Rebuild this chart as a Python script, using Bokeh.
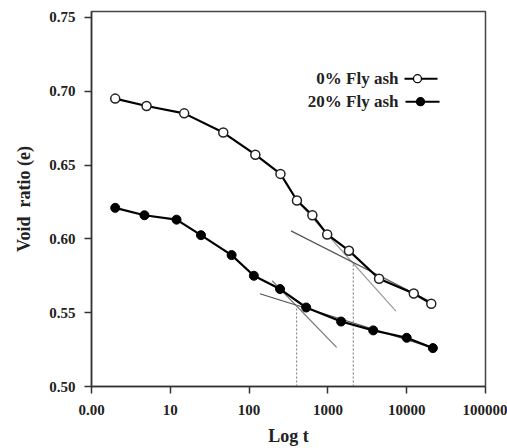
from bokeh.plotting import figure
from bokeh.models import Range1d, FixedTicker, PrintfTickFormatter, Label
from bokeh.embed import file_html
from bokeh.resources import INLINE

# ---- data ----
t_0 = [2, 5, 15, 47, 120, 250, 405, 635, 980, 1850, 4460, 12300, 20500]
e_0 = [0.695, 0.690, 0.685, 0.672, 0.657, 0.644, 0.626, 0.616, 0.603, 0.592, 0.573, 0.563, 0.556]

t_20 = [2, 4.7, 12, 24.5, 60, 115, 247, 530, 1470, 3760, 10000, 21500]
e_20 = [0.621, 0.616, 0.613, 0.6025, 0.589, 0.575, 0.566, 0.5535, 0.544, 0.538, 0.533, 0.526]

# tangent construction lines (end points)
tan0_steep_t = [405, 7300]
tan0_steep_e = [0.626, 0.551]
tan0_flat_t = [340, 22600]
tan0_flat_e = [0.6054, 0.556]
tan20_steep_t = [196, 1290]
tan20_steep_e = [0.5716, 0.5265]
tan20_flat_t = [137, 22000]
tan20_flat_e = [0.5628, 0.526]

# intersection verticals
t_c = [2100, 400]
e_c = [0.584, 0.555]

x_ticks = [1, 10, 100, 1000, 10000, 100000]
x_tick_labels = ["0.00", "10", "100", "1000", "10000", "100000"]
y_ticks = [0.50, 0.55, 0.60, 0.65, 0.70, 0.75]

series_labels = ["0% Fly ash", "20% Fly ash"]

# ---- layout constants (legend placement, in data space) ----
LEG_TEXT_X = 7870
LEG_Y = [0.7085, 0.6929]
LEG_LINE_X = [(9380, 24600), (9660, 26100)]
LEG_MARK_X = [13700, 14960]

FONT = "Liberation Serif"

p = figure(width=507, height=448, x_axis_type="log",
           x_range=Range1d(1, 100000), y_range=Range1d(0.50, 0.754),
           output_backend="svg", toolbar_location=None,
           min_border_left=91, min_border_right=22,
           min_border_top=11, min_border_bottom=61)

p.background_fill_color = "white"
p.border_fill_color = "white"
p.outline_line_color = "#444444"
p.outline_line_width = 1.5
p.xgrid.visible = False
p.ygrid.visible = False

# axes
p.xaxis.ticker = FixedTicker(ticks=x_ticks)
p.xaxis.major_label_overrides = {k: v for k, v in zip(x_ticks, x_tick_labels)}
p.yaxis.ticker = FixedTicker(ticks=y_ticks)
p.yaxis.formatter = PrintfTickFormatter(format="%.2f")

for ax in (p.xaxis[0], p.yaxis[0]):
    ax.axis_line_color = "#333333"
    ax.axis_line_width = 1.5
    ax.major_tick_line_color = "#333333"
    ax.major_tick_line_width = 1.5
    ax.major_tick_in = 0
    ax.major_tick_out = 7
    ax.minor_tick_line_color = None
    ax.major_label_text_font = FONT
    ax.major_label_text_font_style = "bold"
    ax.major_label_text_font_size = "15px"
    ax.major_label_text_color = "#222222"
    ax.axis_label_text_font = FONT
    ax.axis_label_text_font_style = "bold"
    ax.axis_label_text_font_size = "18px"
    ax.axis_label_text_color = "#222222"

p.xaxis.axis_label = "Log t"
p.xaxis.major_label_standoff = 11
p.xaxis.axis_label_standoff = 8
p.yaxis.axis_label = "Void\u00a0 ratio (e)"
p.yaxis.major_label_standoff = 9
p.yaxis.axis_label_standoff = 12

# construction lines
p.line(tan0_steep_t, tan0_steep_e, line_color="#9a9a9a", line_width=1.2)
p.line(tan0_flat_t, tan0_flat_e, line_color="#555555", line_width=1.2)
p.line(tan20_steep_t, tan20_steep_e, line_color="#777777", line_width=1.2)
p.line(tan20_flat_t, tan20_flat_e, line_color="#555555", line_width=1.2)
p.segment(x0=t_c, y0=[0.50] * len(t_c), x1=t_c, y1=e_c,
          line_color="#8a8a8a", line_width=1.2, line_dash="2 2")

# data
p.line(t_0, e_0, line_color="black", line_width=2.2)
p.line(t_20, e_20, line_color="black", line_width=2.2)
p.scatter(t_0, e_0, size=9, marker="circle", fill_color="white",
          line_color="#222222", line_width=1.5)
p.scatter(t_20, e_20, size=9, marker="circle", fill_color="black",
          line_color="black", line_width=1.0)

# custom legend (text left, glyph right)
fills = ["white", "black"]
for i, lab in enumerate(series_labels):
    p.add_layout(Label(x=LEG_TEXT_X, y=LEG_Y[i], text=lab, text_align="right",
                       text_baseline="middle", text_font=FONT,
                       text_font_style="bold", text_font_size="17px",
                       text_color="#222222"))
    x0, x1 = LEG_LINE_X[i]
    p.line([x0, x1], [LEG_Y[i], LEG_Y[i]], line_color="black", line_width=2)
    p.scatter([LEG_MARK_X[i]], [LEG_Y[i]], size=8, marker="circle",
              fill_color=fills[i], line_color="black", line_width=1.3)

open("out.html", "w").write(file_html(p, INLINE))
